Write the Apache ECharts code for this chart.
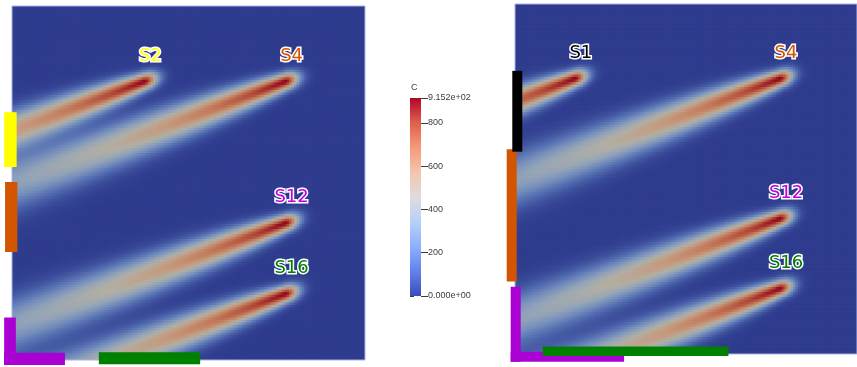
<!DOCTYPE html>
<html>
<head>
<meta charset="utf-8">
<script src="https://cdn.jsdelivr.net/npm/echarts@6/dist/echarts.min.js"></script>
<style>
  html, body { margin: 0; padding: 0; background: #ffffff; }
  #chart { width: 857px; height: 367px; }
</style>
</head>
<body>
<div id="chart"></div>
<script>
// ---- Concentration scale -------------------------------------------------
const C_MIN = 0;
const C_MAX = 915.2;
const colorbarTitle = 'C';

// ---- Point sources (domain units, 0-100 on both axes, y upward) ----------
const leftSourceNames = ['S2', 'S4', 'S12', 'S16'];
const leftSourceX = [37.5, 77.5, 77.5, 77.5];
const leftSourceY = [78.75, 78.75, 38.75, 18.75];

const rightSourceNames = ['S1', 'S4', 'S12', 'S16'];
const rightSourceX = [17.5, 77.5, 77.5, 77.5];
const rightSourceY = [78.75, 78.75, 38.75, 18.75];

// Peak concentration released at every source
const sourcePeak = 915.2;

// Plume transport: direction (degrees below the -x axis), core half-width,
// widening length, centreline decay length and the short upstream tail
const plumeAngleDeg = 20.4;
const plumeCoreWidth = 1.6;
const plumeWidenLength = 10.5;
const plumeDecayLength = 80.0;
const plumeUpstreamWidth = 2.8;

// ---- Boundary segments [x1, y1, x2, y2] in domain units -----------------
const leftBoundaryIds = ['yellow', 'orange', 'purpleV', 'purpleH', 'green'];
const leftBoundarySegments = [
  [0, 54.5, 0, 70.0],
  [0, 30.5, 0, 50.3],
  [0, 0, 0, 12.0],
  [0, 0, 15.0, 0],
  [24.6, 0, 53.3, 0]
];
const rightBoundaryIds = ['orange', 'black', 'purpleV', 'purpleH', 'green'];
const rightBoundarySegments = [
  [0, 20.7, 0, 58.5],
  [0, 57.8, 0, 80.9],
  [0, 0, 0, 19.2],
  [0, 0, 31.9, 0],
  [8.1, 0, 62.4, 0]
];

// ---- Styling --------------------------------------------------------------
const COLORS = {
  yellow: '#ffff00', orange: '#d45500', purple: '#aa00d4',
  green: '#008000', black: '#000000'
};
const labelColor = { S1: COLORS.black, S2: COLORS.yellow, S4: COLORS.orange, S12: '#c000e0', S16: COLORS.green };

// width / perpendicular shift (px, + = right or up) / extension at low end (px)
const leftBoundaryStyle = {
  yellow:  { color: COLORS.yellow, width: 12.5, shift: -1.6, ext: 0 },
  orange:  { color: COLORS.orange, width: 12.3, shift: -0.8, ext: 0 },
  purpleV: { color: COLORS.purple, width: 11.7, shift: -2.0, ext: 5 },
  purpleH: { color: COLORS.purple, width: 12.3, shift: 1.2, ext: 8 },
  green:   { color: COLORS.green,  width: 12.0, shift: 1.7, ext: 0 }
};
const rightBoundaryStyle = {
  orange:  { color: COLORS.orange, width: 10, shift: -3.3, ext: 0 },
  black:   { color: COLORS.black,  width: 10, shift: 2.3, ext: 0 },
  purpleV: { color: COLORS.purple, width: 10, shift: 0.7, ext: 7.7 },
  purpleH: { color: COLORS.purple, width: 10, shift: -2.7, ext: 4.3 },
  green:   { color: COLORS.green,  width: 9.5, shift: 2.7, ext: 0 }
};

// Cool-to-warm diverging map
const coolWarmRGB = [
  [59, 76, 192], [98, 130, 234], [141, 176, 254], [184, 208, 249],
  [221, 221, 221], [245, 196, 173], [244, 154, 123], [222, 96, 77], [180, 4, 38]
];
const toHex = c => '#' + c.map(v => Math.max(0, Math.min(255, Math.round(v))).toString(16).padStart(2, '0')).join('');
const colorbarColors = coolWarmRGB.map(toHex);
// the shaded field surface renders the map somewhat darker
const fieldColors = coolWarmRGB.map(c => toHex([c[0] * 0.8, c[1] * 0.79, c[2] * 0.74]));

// ---- Concentration field on the mesh --------------------------------------
const N = 140;
const cellHalf = 50 / N;

const th = plumeAngleDeg * Math.PI / 180;
const dirX = -Math.cos(th), dirY = -Math.sin(th);

function concentration(x, y, sx, sy) {
  let total = 0;
  for (let k = 0; k < sx.length; k++) {
    const dx = x - sx[k], dy = y - sy[k];
    const s = dx * dirX + dy * dirY;
    const n = dx * dirY - dy * dirX;
    let c;
    if (s >= 0) {
      const sig2 = plumeCoreWidth * plumeCoreWidth * (1 + s / plumeWidenLength);
      c = sourcePeak * Math.exp(-s / plumeDecayLength) * Math.exp(-n * n / (2 * sig2));
    } else {
      c = sourcePeak * Math.exp(-s * s / (2 * plumeUpstreamWidth * plumeUpstreamWidth))
        * Math.exp(-n * n / (2 * plumeCoreWidth * plumeCoreWidth));
    }
    total += c;
  }
  return Math.min(C_MAX, total);
}

function buildField(sx, sy) {
  const out = [];
  for (let j = 0; j < N; j++) {
    const y = (j + 0.5) * 100 / N;
    for (let i = 0; i < N; i++) {
      const x = (i + 0.5) * 100 / N;
      out.push([x, y, concentration(x, y, sx, sy)]);
    }
  }
  return out;
}

const leftField = buildField(leftSourceX, leftSourceY);
const rightField = buildField(rightSourceX, rightSourceY);

function renderCell(params, api) {
  const x = api.value(0), y = api.value(1);
  const p0 = api.coord([x - cellHalf, y + cellHalf]);
  const p1 = api.coord([x + cellHalf, y - cellHalf]);
  return {
    type: 'rect',
    shape: { x: p0[0] - 0.4, y: p0[1] - 0.4, width: p1[0] - p0[0] + 0.8, height: p1[1] - p0[1] + 0.8 },
    style: { fill: api.visual('color') }
  };
}

// Colour bar body: one rect spanning the scale, filled with the map
function renderColorbar(params, api) {
  const top = api.coord([0, api.value(1)]);
  const bottom = api.coord([1, api.value(0)]);
  const stops = colorbarColors.map((c, i) => ({ offset: i / (colorbarColors.length - 1), color: c }));
  return {
    type: 'rect',
    shape: { x: top[0], y: top[1], width: bottom[0] - top[0], height: bottom[1] - top[1] },
    style: { fill: new echarts.graphic.LinearGradient(0, 1, 0, 0, stops) }
  };
}

// Source labels: a white outline pass, then the coloured text on top
function renderSourceLabel(halo) {
  return function (params, api) {
    const p = api.coord([api.value(0), api.value(1)]);
    const name = api.value(2);
    return {
      type: 'text',
      x: p[0] + 6, y: p[1] - 25,
      style: halo ? {
        text: name, fill: '#ffffff', stroke: '#ffffff', lineWidth: 3,
        font: '18px "DejaVu Sans"', align: 'center', verticalAlign: 'middle'
      } : {
        text: name, fill: labelColor[name],
        font: '18px "DejaVu Sans"', align: 'center', verticalAlign: 'middle'
      }
    };
  };
}

function sourceItems(names, xs, ys) {
  return names.map((nm, k) => [xs[k], ys[k], nm]);
}

function boundaryRenderer(ids, styles) {
  return function (params, api) {
    const st = styles[ids[params.dataIndex]];
    const a = api.coord([api.value(0), api.value(1)]);
    const b = api.coord([api.value(2), api.value(3)]);
    let shape;
    if (Math.abs(a[0] - b[0]) < 0.5) {
      const top = Math.min(a[1], b[1]);
      const bottom = Math.max(a[1], b[1]) + st.ext;
      shape = { x: a[0] + st.shift - st.width / 2, y: top, width: st.width, height: bottom - top };
    } else {
      const l = Math.min(a[0], b[0]) - st.ext;
      const r = Math.max(a[0], b[0]);
      shape = { x: l, y: a[1] - st.shift - st.width / 2, width: r - l, height: st.width };
    }
    return { type: 'rect', shape: shape, style: { fill: st.color } };
  };
}

// ---- Layout ---------------------------------------------------------------
const leftPanel = { left: 12, top: 6, width: 353, height: 354 };
const rightPanel = { left: 515, top: 4, width: 350, height: 350 };
const panelBorder = { show: true, borderColor: '#a9b1e8', borderWidth: 1, backgroundColor: 'transparent', z: 5 };

const chart = echarts.init(document.getElementById('chart'), null, { renderer: 'canvas' });

const domainAxis = (g) => ({ type: 'value', gridIndex: g, min: 0, max: 100, show: false });

function labelSeries(axis, names, xs, ys, halo) {
  return {
    type: 'custom', xAxisIndex: axis, yAxisIndex: axis, z: halo ? 7 : 8, silent: true, clip: false,
    dimensions: ['x', 'y', { name: 'name', type: 'ordinal' }],
    renderItem: renderSourceLabel(halo), data: sourceItems(names, xs, ys)
  };
}

chart.setOption({
  animation: false,
  backgroundColor: '#ffffff',
  title: {
    text: colorbarTitle,
    left: 411, top: 83, padding: 0,
    textStyle: { fontFamily: 'Liberation Sans', fontSize: 9, fontWeight: 'normal', color: '#3c3c3c' }
  },
  grid: [
    Object.assign({}, leftPanel, panelBorder),
    Object.assign({}, rightPanel, panelBorder),
    { left: 410, top: 98, width: 11, height: 198 }
  ],
  xAxis: [
    domainAxis(0), domainAxis(1),
    { type: 'value', gridIndex: 2, min: 0, max: 1, show: false }
  ],
  yAxis: [
    domainAxis(0), domainAxis(1),
    {
      type: 'value', gridIndex: 2, position: 'right', min: C_MIN, max: C_MAX, interval: 20,
      axisLine: { show: false }, splitLine: { show: false },
      axisTick: { show: true, length: 4, lineStyle: { color: '#3c3c3c', width: 1 } },
      axisLabel: { show: false }
    },
    {
      type: 'value', gridIndex: 2, position: 'right', min: C_MIN, max: C_MAX, interval: 200,
      axisLine: { show: false }, splitLine: { show: false },
      axisTick: { show: true, length: 7, lineStyle: { color: '#3c3c3c', width: 1 } },
      axisLabel: {
        show: true, margin: 7, fontFamily: 'Liberation Sans', fontSize: 9, color: '#3c3c3c',
        showMinLabel: true, showMaxLabel: true,
        formatter: v => (v === C_MIN ? C_MIN.toExponential(3) : v === C_MAX ? C_MAX.toExponential(3) : String(v))
          .replace(/e\+(\d)$/, 'e+0$1').replace(/e-(\d)$/, 'e-0$1')
      }
    }
  ],
  visualMap: [
    {
      type: 'continuous', show: false, seriesIndex: [0, 1], dimension: 2,
      min: C_MIN, max: C_MAX, inRange: { color: fieldColors }
    }
  ],
  series: [
    {
      type: 'custom', xAxisIndex: 0, yAxisIndex: 0, data: leftField, renderItem: renderCell,
      progressive: 0, silent: true, clip: true
    },
    {
      type: 'custom', xAxisIndex: 1, yAxisIndex: 1, data: rightField, renderItem: renderCell,
      progressive: 0, silent: true, clip: true
    },
    {
      type: 'custom', xAxisIndex: 0, yAxisIndex: 0, z: 6, silent: true, clip: false,
      renderItem: boundaryRenderer(leftBoundaryIds, leftBoundaryStyle),
      data: leftBoundarySegments
    },
    {
      type: 'custom', xAxisIndex: 1, yAxisIndex: 1, z: 6, silent: true, clip: false,
      renderItem: boundaryRenderer(rightBoundaryIds, rightBoundaryStyle),
      data: rightBoundarySegments
    },
    labelSeries(0, leftSourceNames, leftSourceX, leftSourceY, true),
    labelSeries(0, leftSourceNames, leftSourceX, leftSourceY, false),
    labelSeries(1, rightSourceNames, rightSourceX, rightSourceY, true),
    labelSeries(1, rightSourceNames, rightSourceX, rightSourceY, false),
    {
      type: 'custom', xAxisIndex: 2, yAxisIndex: 2, silent: true, clip: false,
      renderItem: renderColorbar, data: [[C_MIN, C_MAX]],
      encode: { x: [], y: [0, 1] }
    }
  ]
});
</script>
</body>
</html>
